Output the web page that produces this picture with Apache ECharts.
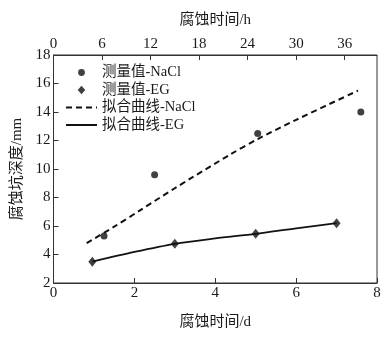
<!DOCTYPE html>
<html><head><meta charset="utf-8">
<script src="https://cdn.jsdelivr.net/npm/echarts@6/dist/echarts.min.js"></script>
<style>html,body{margin:0;padding:0;background:#fff}#c{width:391px;height:337px}</style>
</head><body><div id="c"></div>
<script>
// Measured values
const naclMeasured = [[1.25, 5.3], [2.5, 9.6], [5.05, 12.5], [7.6, 14.0]];
const egMeasured = [[0.96, 3.5], [3.0, 4.75], [5.0, 5.45], [7.0, 6.2]];
// Fitted curves
const naclFit = [[0.82, 4.8], [1.5, 5.95], [2.14, 7.1], [3.0, 8.65], [3.37, 9.3], [4.36, 11.0], [5.05, 12.1], [6.0, 13.45], [7.53, 15.5]];
const egFit = [[0.96, 3.5], [2.0, 4.18], [3.0, 4.75], [4.0, 5.13], [5.0, 5.45], [6.0, 5.84], [7.0, 6.2]];
const seriesNames = ['测量值-NaCl', '测量值-EG', '拟合曲线-NaCl', '拟合曲线-EG'];

const FONT = 'Liberation Serif, "Noto Sans CJK SC", serif';
const C = '#1a1a1a';
const chart = echarts.init(document.getElementById('c'));
chart.setOption({
  animation: false,
  backgroundColor: '#fff',
  textStyle: {fontFamily: FONT, color: C},
  grid: {left: 53.5, right: 14, top: 55, bottom: 54, show: true, borderColor: '#333', borderWidth: 1},
  legend: {
    data: [
      {name: seriesNames[0], icon: 'path://M0,0M9,9M7.9,4.5A3.4,3.4,0,1,1,1.1,4.5A3.4,3.4,0,1,1,7.9,4.5Z'},
      {name: seriesNames[1], icon: 'path://M0,0M9,9M4.5,0.3L8.3,4.5L4.5,8.7L0.7,4.5Z'},
      {name: seriesNames[2], itemStyle: {opacity: 0}},
      {name: seriesNames[3], itemStyle: {opacity: 0}}
    ],
    symbolKeepAspect: true,
    orient: 'vertical', left: 65, top: 65, padding: 0,
    itemWidth: 31, itemHeight: 9, itemGap: 2.5,
    textStyle: {fontFamily: FONT, fontSize: 14.5, color: C, lineHeight: 15}
  },
  xAxis: [{
    type: 'value', min: 0, max: 8, interval: 2, position: 'bottom',
    name: '腐蚀时间/d', nameLocation: 'middle', nameGap: 32,
    nameTextStyle: {fontFamily: FONT, fontSize: 15, color: C},
    axisLine: {show: true, lineStyle: {color: '#333', width: 1}},
    axisTick: {show: true, inside: true, length: 5, lineStyle: {color: '#333'}},
    axisLabel: {fontFamily: FONT, fontSize: 15, color: C, margin: 3},
    splitLine: {show: false}
  }, {
    type: 'value', min: 0, max: 40, interval: 6, position: 'top',
    name: '腐蚀时间/h', nameLocation: 'middle', nameGap: 27,
    nameTextStyle: {fontFamily: FONT, fontSize: 15, color: C},
    axisLine: {show: true, lineStyle: {color: '#333', width: 1}},
    axisTick: {show: true, inside: true, length: 5, lineStyle: {color: '#333'}},
    axisLabel: {fontFamily: FONT, fontSize: 15, color: C, margin: 3, showMaxLabel: false},
    splitLine: {show: false}
  }],
  yAxis: [{
    type: 'value', min: 2, max: 18, interval: 2,
    name: '腐蚀坑深度/mm', nameLocation: 'middle', nameGap: 23, nameRotate: 90,
    nameTextStyle: {fontFamily: FONT, fontSize: 15, color: C},
    axisLine: {show: true, lineStyle: {color: '#333', width: 1}},
    axisTick: {show: true, inside: true, length: 5, lineStyle: {color: '#333'}},
    axisLabel: {fontFamily: FONT, fontSize: 15, color: C, margin: 3},
    splitLine: {show: false}
  }],
  series: [{
    name: seriesNames[0], type: 'scatter', data: naclMeasured,
    symbol: 'circle', symbolSize: 7, itemStyle: {color: '#111'}
  }, {
    name: seriesNames[1], type: 'scatter', data: egMeasured,
    symbol: 'diamond', symbolSize: [8, 10], itemStyle: {color: '#111'}, z: 5
  }, {
    name: seriesNames[2], type: 'line', data: naclFit, smooth: 0.3,
    showSymbol: false, symbol: 'none',
    lineStyle: {color: '#111', width: 2, type: [6, 4]}, itemStyle: {color: '#111'}
  }, {
    name: seriesNames[3], type: 'line', data: egFit, smooth: 0.3,
    showSymbol: false, symbol: 'none',
    lineStyle: {color: '#111', width: 1.8}, itemStyle: {color: '#111'}
  }]
});
</script></body></html>
